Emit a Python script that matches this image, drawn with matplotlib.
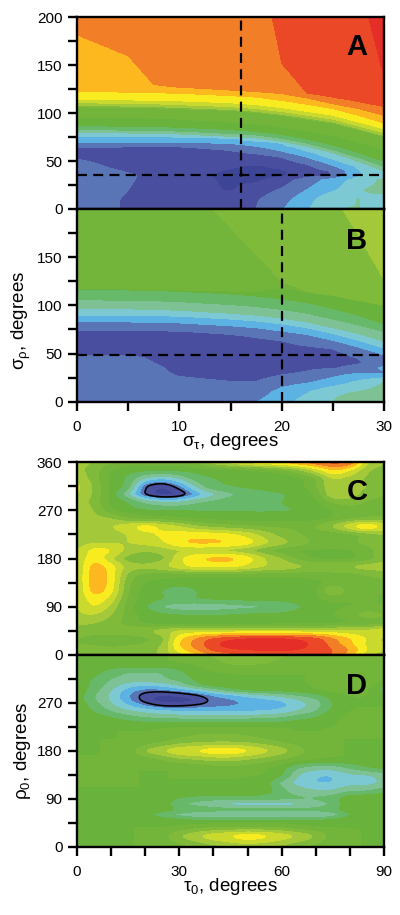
import numpy as np
import matplotlib
matplotlib.use("Agg")
import matplotlib.pyplot as plt
from matplotlib.ticker import MultipleLocator

plt.rcParams['font.family'] = ['Liberation Sans', 'DejaVu Sans']
plt.rcParams['mathtext.fontset'] = 'custom'
plt.rcParams['mathtext.rm'] = 'Liberation Sans'
plt.rcParams['mathtext.it'] = 'Liberation Sans'
plt.rcParams['mathtext.default'] = 'regular'

# colour for each score step, deep blue (low) to red (high)
colors = ['#3d4596', '#4a4e9e', '#5a75b6', '#5bb2e3', '#7cc9d3', '#7dc195', '#68b86a',
          '#69b23c', '#72b53a', '#7fba3a', '#a3c83a', '#c9d92e', '#f8ec20', '#fdb81f',
          '#f37e28', '#ea4826', '#e62e29']

# panels A and B: z on rows near the floor, then the y where each step starts
sig_cols = [0, 5, 7.5, 10, 15, 17.5, 20, 22.5, 25, 27.5, 30]
low_rows = [0, 10, 20, 30, 35, 40, 45, 50, 55, 60, 65, 70, 75]

a_low = [
    [2.5, 1.9, 1.7, 1.5, 1.5, 2.0, 2.9, 3.9, 5.0, 5.01, 4.5],
    [2.5, 1.9, 1.7, 1.5, 1.5, 1.9, 2.6, 3.6, 4.8, 5.01, 4.5],
    [2.5, 2.0, 1.6, 1.5, 0.9, 1.5, 2.1, 3.0, 3.8, 4.9, 5.3],
    [2.5, 2.1, 1.7, 1.5, 0.8, 0.8, 1.5, 2.5, 3.4, 4.4, 5.2],
    [2.5, 2.1, 1.8, 1.5, 0.7, 0.7, 0.8, 1.6, 2.0, 3.9, 4.5],
    [2.5, 1.9, 1.7, 1.5, 0.9, 0.8, 0.9, 1.5, 2.1, 3.9, 4.9],
    [2.4, 1.6, 1.5, 1.4, 1.1, 0.9, 1.2, 1.8, 2.9, 4.2, 5.6],
    [2.1, 1.5, 1.5, 1.4, 1.3, 1.3, 1.6, 2.4, 3.6, 5.2, 6.0],
    [1.8, 1.4, 1.4, 1.4, 1.4, 1.6, 2.1, 3.1, 4.5, 5.9, 6.0],
    [1.5, 1.4, 1.4, 1.5, 1.9, 2.3, 2.9, 3.9, 5.0, 6.0, 6.0],
    [2.1, 2.0, 2.0, 2.0, 2.3, 2.9, 3.5, 4.6, 5.0, 6.0, 6.0],
    [3.0, 3.0, 3.0, 3.0, 3.3, 3.7, 4.2, 5.0, 5.0, 6.0, 6.0],
    [3.9, 3.9, 3.9, 3.9, 4.2, 4.5, 5.0, 5.0, 5.0, 6.0, 6.0],
]
a_steps = [5, 6, 7, 8, 9, 10, 11, 12, 13, 14, 15, 16, 16.5]
a_step_y = [
    [80, 79.5, 79, 78.5, 76, 74.5, 71, 65.5, 59, 50, 40],
    [83, 82.5, 82, 81.5, 79, 77.5, 74, 69, 62, 54, 45],
    [87, 86.5, 86, 85.5, 83, 81, 78, 73, 67, 59, 50],
    [96, 95.5, 95, 94, 91, 89, 86, 82, 77, 70, 62],
    [107, 106.5, 106, 105, 103, 101, 98, 94, 90, 83, 76],
    [108, 107.5, 107, 106, 104, 102, 99, 95, 91, 84, 77],
    [111, 110.5, 110, 109, 107, 105, 102, 98, 94, 87, 80],
    [114.5, 114, 113.5, 113, 111, 109, 106, 102, 98, 91, 84],
    [122.5, 122, 121.5, 121, 118.5, 117, 113.5, 109.5, 105, 98, 90],
    [182, 160, 130, 127, 124, 122.5, 120.5, 116, 110, 105, 98],
    [400, 400, 400, 400, 400, 280, 152, 121, 117, 112, 107],
    [500, 500, 500, 500, 500, 500, 500, 500, 400, 240, 138],
    [1000, 1000, 1000, 1000, 1000, 1000, 1000, 1000, 1000, 1000, 1000],
]

b_low = [
    [2.5, 2.5, 2.5, 2.5, 2.5, 2.95, 3.6, 4.4, 5.0, 5.6, 5.8],
    [2.5, 2.5, 2.5, 2.5, 2.4, 2.5, 3.3, 3.9, 4.8, 5.01, 5.4],
    [2.5, 2.5, 2.5, 2.3, 2.05, 2.05, 2.6, 2.9, 3.4, 4.2, 5.0],
    [2.5, 2.5, 2.3, 1.8, 1.5, 1.5, 1.8, 2.1, 2.6, 2.9, 2.8],
    [2.5, 2.5, 2.2, 1.7, 1.4, 1.4, 1.5, 1.8, 1.9, 2.3, 3.2],
    [2.3, 2.3, 2.0, 1.6, 1.3, 1.3, 1.4, 1.5, 1.7, 1.9, 2.4],
    [2.2, 2.2, 1.9, 1.5, 1.3, 1.3, 1.3, 1.5, 1.6, 2.0, 2.6],
    [1.8, 1.8, 1.7, 1.5, 1.4, 1.4, 1.4, 1.5, 1.7, 2.3, 3.0],
    [1.5, 1.5, 1.5, 1.5, 1.4, 1.4, 1.5, 1.7, 2.0, 2.7, 3.0],
    [1.5, 1.5, 1.5, 1.5, 1.5, 1.6, 1.8, 2.2, 2.5, 3.0, 3.0],
    [1.5, 1.5, 1.5, 1.5, 1.6, 1.9, 2.1, 2.5, 3.0, 3.0, 3.0],
    [1.6, 1.6, 1.6, 1.6, 2.0, 2.2, 2.4, 2.7, 3.0, 3.0, 3.0],
    [2.1, 2.1, 2.1, 2.2, 2.5, 2.6, 2.8, 2.9, 3.0, 3.0, 3.0],
]
b_steps = [3, 4, 5, 6, 7, 8, 9, 10, 10.5]
b_step_y = [
    [83, 83, 82.5, 82, 79, 77, 73.5, 70, 64, 57, 49],
    [90, 90, 89.5, 89, 86, 84, 81, 77, 71, 64, 56],
    [97, 96.5, 96, 95, 92, 90, 87, 83, 77, 71, 63],
    [106, 105.5, 105, 104, 101, 99, 96, 92, 86, 80, 73],
    [117, 116.5, 116, 115, 112, 110, 107, 103, 97, 90, 81],
    [117.5, 117, 116.5, 116, 115, 114.5, 119, 114, 110, 105, 100],
    [348, 292, 265, 237, 181, 153, 125, 114.5, 110.5, 105.5, 100.5],
    [675, 584, 538, 492, 401, 355, 310, 264, 218, 172, 127],
    [1000, 1000, 1000, 1000, 1000, 1000, 1000, 1000, 1000, 1000, 1000],
]

# panels C and D: z on a tau0 / rho0 grid
tau_cols = [0, 5, 10, 15, 20, 25, 30, 35, 40, 45, 50, 55, 60, 65, 70, 75, 80, 85, 90]

c_rows = [0, 10, 20, 30, 45, 60, 75, 90, 105, 120, 135, 150, 165, 180, 195, 210, 225, 240,
          255, 270, 285, 300, 315, 330, 345, 360]
c_z = [
    [9.5, 9.5, 9.5, 9.5, 9.7, 10, 11.5, 12.5, 14, 14.5, 15, 15, 15.2, 15.2, 15.5, 15, 13.5, 11, 10.5],
    [9.5, 9.5, 9.5, 9.5, 9.5, 10.2, 12.5, 14, 15.3, 15.8, 16, 16.2, 16.2, 16, 15.7, 15, 14, 12, 10.8],
    [9, 8.8, 8.2, 8.8, 9, 9.7, 13.2, 14.4, 15.8, 16.6, 16.8, 16.8, 16.8, 16.3, 15.8, 14.5, 13.2, 11.7, 11],
    [9, 8.5, 8.5, 8.3, 8.6, 9.5, 12.7, 14.2, 15.3, 15.8, 16.3, 16.3, 16.3, 16, 15.5, 14.2, 13, 12, 10.5],
    [9.5, 9.3, 9.3, 9.5, 10, 10.5, 11.2, 11.2, 11.2, 11.2, 11.2, 11.2, 11.2, 11.2, 11.2, 11.2, 11.2, 11.2, 12],
    [10.2, 10, 9.5, 8.5, 7.7, 7.2, 7, 7, 7, 7, 7, 7.2, 7.3, 7.3, 7.3, 7.5, 7.8, 8, 8.3],
    [10.8, 11, 10, 8.5, 7.5, 7.2, 7.1, 7.1, 7.1, 7.1, 7.2, 7.2, 7.3, 7.5, 7.7, 8, 8.5, 9.7, 9],
    [10.8, 12.2, 10.7, 8.3, 7, 5.8, 5.1, 5, 5, 5.4, 5.6, 5.8, 5.8, 6.8, 7.5, 7.8, 8, 8, 8],
    [10.8, 12.8, 11.7, 8.5, 7.5, 7, 7, 7, 7.2, 7.2, 7.3, 7.3, 7.4, 7.5, 7.8, 8.2, 8, 8, 8],
    [10.8, 13.7, 12.5, 8.8, 7.5, 7, 6, 7, 7.4, 7.5, 7.5, 7.5, 7.5, 7.5, 7.6, 10.5, 8.3, 8, 8],
    [10.8, 14, 12.7, 9, 7.8, 7.6, 7.5, 7.5, 7.5, 7.5, 7.5, 7.5, 7.5, 7.5, 7.6, 8.3, 8, 8.3, 8.5],
    [10.8, 14, 12.7, 9.5, 8.5, 8.3, 8.3, 8.3, 8.3, 8.3, 8.3, 8.3, 8.3, 8.3, 8.3, 8.5, 8.5, 9, 9.5],
    [10.8, 13.7, 12.5, 10.5, 10.3, 10.8, 11.7, 12.3, 12.3, 12.3, 11.7, 11, 10.8, 10.3, 10, 10, 10.2, 10.5, 10.5],
    [10.8, 13, 11, 9.3, 9, 9.5, 11.8, 12.9, 13.4, 13.4, 12.6, 11, 10, 8.5, 7.7, 7.6, 7.7, 8.3, 9.8],
    [10.8, 12.5, 12.2, 10.5, 10, 10.3, 10.8, 11, 10.8, 10.5, 10, 9, 8.2, 7.8, 7.8, 7.8, 7.8, 8.5, 9.5],
    [10.5, 10.8, 10.8, 11, 11.3, 11.8, 13, 13.3, 13.3, 13.1, 12.6, 11.3, 10.5, 9.5, 8.8, 8.5, 8.8, 9.3, 10],
    [10.3, 10.5, 10.5, 11, 11.7, 12.2, 12.5, 12.6, 12.4, 12.2, 11.5, 10.5, 9.5, 9, 8.5, 8.1, 8.5, 9.2, 10],
    [10.3, 10.3, 11, 11.7, 12.7, 11.7, 11, 10, 9.5, 9.2, 9, 8.8, 8.8, 8.8, 9, 10.2, 12, 13.4, 11.7],
    [10.5, 10.3, 10, 8.8, 8.3, 8.2, 8, 7.8, 7.6, 7.4, 7.3, 7.3, 7.3, 7.3, 7.5, 8, 8.5, 9, 9],
    [10.8, 10, 8, 7.3, 7, 6.9, 6.9, 6.9, 6.9, 6.9, 6.9, 6.9, 6.9, 7, 7.3, 8, 8.3, 8.5, 8.5],
    [10.8, 9.5, 7.6, 7, 5.6, 5, 5, 5.8, 6.2, 6.6, 6.8, 6.8, 7, 7.2, 7.6, 9, 9.5, 8.8, 8.5],
    [11.2, 9.8, 7.6, 5, 1.6, 0.2, 0.8, 3.2, 4.7, 5.7, 6.4, 6.7, 6.9, 7.2, 8, 11.2, 10.5, 9.5, 9],
    [11.4, 9.8, 7.6, 6.8, 1.8, 0.8, 2.6, 5.2, 6.9, 7, 7.2, 7.3, 7.4, 7.5, 8.8, 11, 10.5, 10, 9.5],
    [10.7, 9.5, 7.6, 6.8, 4.8, 4, 5, 6.6, 7, 7.1, 7.1, 7.1, 7.2, 7.6, 8.8, 11.2, 10.5, 9.8, 9.5],
    [10.3, 9.5, 7.8, 7.3, 7.2, 7.2, 7.2, 7.3, 7.4, 7.5, 7.7, 8, 8.6, 9.6, 11.2, 13.2, 12, 10, 9.5],
    [10.3, 10, 9, 8.5, 8.5, 8.5, 8.5, 9, 10.7, 11.5, 12.5, 13, 13.3, 14, 14.8, 15.5, 15.2, 11, 10],
]

d_rows = [0, 20, 35, 50, 60, 70, 80, 90, 105, 120, 135, 150, 165, 180, 195, 210, 225, 240,
          255, 265, 275, 285, 295, 305, 315, 330, 345, 360]
d_z = [
    [8, 8, 8, 8, 8, 8, 8.5, 9, 9.5, 10, 10.2, 10, 9.6, 9, 8.5, 8, 8, 8, 8],
    [8, 8, 8, 8, 8, 8.5, 10, 10.9, 11.8, 12.2, 12.9, 12.4, 11.7, 11, 10, 8.5, 8, 8, 8],
    [8, 8, 8, 8, 8, 8, 8.2, 8.8, 9, 9.1, 9.1, 9.1, 9, 8.5, 8.1, 8, 8, 8, 8],
    [8, 8, 8, 8, 8, 7.7, 7.3, 7, 7, 7, 7, 7, 7, 7, 7, 7.3, 7.8, 8, 8],
    [8, 8, 8, 8, 7.5, 6, 5.4, 4.9, 4.7, 4.7, 4.7, 4.7, 4.6, 4.5, 4.6, 5.1, 6.8, 7.8, 8],
    [8, 8, 8, 8, 7.9, 7.6, 7, 6.7, 6.6, 6.5, 6.5, 6.5, 6.5, 6.5, 6.5, 6.7, 7.8, 8, 8],
    [8, 8, 8, 8, 8, 7.6, 6, 5.5, 5, 4.4, 4.4, 4.3, 4.3, 4.5, 4.9, 6.2, 7.8, 8, 8],
    [8, 8, 8, 8, 8, 7.7, 6.8, 6.4, 6.2, 6.2, 6.2, 6.2, 6.2, 6.2, 6.2, 6.6, 7.8, 8, 8],
    [8, 8, 8, 8, 8, 8, 8, 8, 8, 8, 8, 7.7, 6.2, 5.5, 5, 5, 5.8, 5.8, 6.5],
    [8, 8, 8, 8, 8, 8, 8, 8, 8, 8, 8, 7.5, 5.6, 4.4, 3.9, 3.9, 4.6, 4.4, 5.2],
    [8, 9.2, 8.4, 8, 8, 8, 8, 8, 8, 8, 8, 8, 7.2, 4.8, 4, 3.9, 4.8, 4.8, 5.4],
    [8, 8.3, 8, 8, 8, 8, 8, 8.2, 8.6, 8.7, 8.5, 8.1, 7.5, 6, 5.5, 5.5, 6.2, 7, 7.5],
    [8, 8, 8, 8, 8.3, 9, 9.8, 10, 10.4, 10.4, 10, 9.5, 9, 8.4, 8, 8, 8, 8, 8],
    [8, 8, 8, 8.2, 10.2, 11, 12, 12.2, 12.8, 12.9, 12.3, 11.4, 10.5, 9.5, 8.2, 8, 8, 8, 8],
    [8, 8, 8, 8, 8.4, 9, 9.6, 9.9, 10, 10, 9.9, 9.5, 9, 8.5, 8, 8, 8, 8, 8],
    [8, 8, 8, 8, 8, 8, 8.4, 9, 9.1, 9.1, 8.8, 8.4, 8, 8, 8, 8, 8, 8, 8],
    [8, 8, 8, 8, 8, 8, 8, 8, 8, 8, 8, 8, 8, 8, 8, 8, 8.2, 8.5, 8],
    [8, 7.8, 7.2, 6.6, 6.2, 6, 5.9, 5.9, 5.9, 5.9, 5.9, 6, 6.2, 6.8, 7.2, 7.8, 8.3, 9.3, 8.3],
    [7.9, 6.8, 5.8, 5, 4.5, 4.1, 3.9, 3.8, 3.8, 3.8, 3.8, 3.9, 4.2, 5, 5.8, 7.4, 8, 8, 8],
    [7.8, 6.5, 5.2, 4, 2.8, 1.8, 1.8, 2.2, 2.6, 2.8, 3.2, 3.3, 3.6, 4.5, 5.4, 7, 8, 8, 8],
    [7.6, 6, 4.8, 3.2, 1.4, 0.2, 0.2, 0.8, 2.4, 2.7, 3.3, 3.6, 3.9, 4.8, 5.6, 7.2, 8, 8, 8],
    [7.6, 6, 4.8, 3, 1.4, 0.8, 1.2, 1.9, 3, 3.6, 4.3, 4.8, 5.4, 6, 6.6, 7.5, 8, 8, 7.5],
    [7.8, 6.4, 5, 3.5, 2.6, 2.8, 3.4, 4.2, 5.4, 6.6, 7.2, 7.5, 7.5, 7.7, 8, 8.3, 8.5, 8.2, 6.2],
    [7.8, 6.6, 5.6, 4.5, 4.2, 4.5, 5.3, 6.8, 7.7, 7.9, 8, 8, 8, 8, 8, 8.4, 8.6, 8.4, 7.5],
    [7.9, 6.8, 5.9, 5.6, 5.6, 5.8, 6.3, 7.2, 7.9, 8, 8, 8, 8, 8, 8, 8.5, 8.7, 8.5, 8],
    [8, 7.5, 6.5, 6, 6, 6, 6.8, 7.6, 8, 8, 8, 8, 8, 8, 8, 8.5, 8.7, 8.5, 8],
    [8, 8, 8, 8, 8, 8, 8, 8.1, 8.6, 9.2, 9.2, 9.1, 8.6, 8.2, 8, 8.3, 8.6, 8.3, 8],
    [8, 8, 8, 8, 8, 8, 8, 8.3, 9.2, 9.5, 9.5, 9.5, 9.2, 8.5, 8, 8, 8, 8, 8],
]

W, H = 400.0, 915.0
levels = np.arange(0, 18)


def panel_axes(top, bottom):
    ax = fig.add_axes([77 / W, 1 - bottom / H, 307 / W, (bottom - top) / H])
    for s in ax.spines.values():
        s.set_linewidth(1.7)
    ax.tick_params(which='both', direction='out', width=1.7, labelsize=11, pad=4)
    ax.tick_params(which='both', axis='x', pad=6.5)
    ax.tick_params(which='major', length=6.5)
    ax.tick_params(which='minor', length=6.5)
    return ax


def step_grid(low, steps, step_y, xs, ys):
    # one z profile per x: floor rows first, then the step heights
    low = np.array(low, dtype=float)
    step_y = np.array(step_y, dtype=float)
    z = np.zeros((len(ys), len(xs)))
    for i, x in enumerate(xs):
        low_z = [np.interp(x, sig_cols, row) for row in low]
        sy = [np.interp(x, sig_cols, row) for row in step_y]
        keep = [k for k in range(len(low_rows)) if low_rows[k] < sy[0] - 0.5]
        py = [low_rows[k] for k in keep] + sy
        pz = [low_z[k] for k in keep] + list(steps)
        z[:, i] = np.interp(ys, py, pz)
    return z


def soften(values, window):
    pad = window // 2
    kernel = np.ones(window) / window
    return np.convolve(np.pad(values, pad, mode='edge'), kernel, mode='valid')


def smooth_grid(cols, rows, z, xs, ys):
    # round off the corners of a coarse grid
    z = np.array(z, dtype=float)
    by_x = np.array([np.interp(xs, cols, row) for row in z])
    out = np.array([np.interp(ys, rows, by_x[:, i]) for i in range(len(xs))]).T
    for _ in range(2):
        out = np.array([soften(row, 7) for row in out])
        out = np.array([soften(out[:, i], 7) for i in range(len(xs))]).T
    return out


def fill(ax, x, y, z):
    cs = ax.contourf(x, y, z, levels=levels, colors=colors)
    cs.set_edgecolor('face')
    cs.set_linewidth(0.3)


fig = plt.figure(figsize=(W / 100, H / 100), dpi=100, facecolor='white')

fine_x = np.arange(0, 30.01, 0.1)
fine_y = np.arange(0, 200.01, 0.5)
tau_x = np.arange(0, 90.01, 0.5)
rho_y = np.arange(0, 360.01, 1.0)

ax_a = panel_axes(17.3, 209)
fill(ax_a, fine_x, fine_y, step_grid(a_low, a_steps, a_step_y, fine_x, fine_y))
ax_a.axvline(16, color='black', lw=1.6, linestyle=(0, (4.5, 2.8)))
ax_a.axhline(35, color='black', lw=1.6, linestyle=(0, (4.5, 2.8)))
ax_a.set_xlim(0, 30)
ax_a.set_ylim(0, 200)
ax_a.set_yticks([0, 50, 100, 150, 200])
ax_a.yaxis.set_minor_locator(MultipleLocator(25))
ax_a.set_xticks([])
ax_a.text(0.912, 0.845, 'A', transform=ax_a.transAxes, ha='center', va='center',
          fontsize=21, fontweight='bold')

ax_b = panel_axes(209, 401.7)
fill(ax_b, fine_x, fine_y, step_grid(b_low, b_steps, b_step_y, fine_x, fine_y))
ax_b.axvline(20, color='black', lw=1.6, linestyle=(0, (4.5, 2.8)))
ax_b.axhline(48, color='black', lw=1.6, linestyle=(0, (4.5, 2.8)))
ax_b.set_xlim(0, 30)
ax_b.set_ylim(0, 200)
ax_b.set_yticks([0, 50, 100, 150])
ax_b.set_yticks([25, 75, 125, 175], minor=True)
ax_b.set_xticks([0, 10, 20, 30])
ax_b.xaxis.set_minor_locator(MultipleLocator(5))
ax_b.text(0.912, 0.835, 'B', transform=ax_b.transAxes, ha='center', va='center',
          fontsize=21, fontweight='bold')
ax_b.set_xlabel(r'$\sigma_{\tau}$, degrees', fontsize=13.5, labelpad=-2)
ax_b.set_ylabel(r'$\sigma_{\rho}$, degrees', fontsize=13.5, y=0.42, labelpad=3)

z_c = smooth_grid(tau_cols, c_rows, c_z, tau_x, rho_y)
ax_c = panel_axes(462, 655)
fill(ax_c, tau_x, rho_y, z_c)
ax_c.contour(tau_x, rho_y, z_c, levels=[2], colors='black', linewidths=1.2)
ax_c.set_xlim(0, 90)
ax_c.set_ylim(0, 360)
ax_c.set_yticks([0, 90, 180, 270, 360])
ax_c.yaxis.set_minor_locator(MultipleLocator(45))
ax_c.set_xticks([])
ax_c.text(0.912, 0.845, 'C', transform=ax_c.transAxes, ha='center', va='center',
          fontsize=21, fontweight='bold')

z_d = smooth_grid(tau_cols, d_rows, d_z, tau_x, rho_y)
ax_d = panel_axes(655, 846.7)
fill(ax_d, tau_x, rho_y, z_d)
ax_d.contour(tau_x, rho_y, z_d, levels=[2], colors='black', linewidths=1.2)
ax_d.set_xlim(0, 90)
ax_d.set_ylim(0, 360)
ax_d.set_yticks([0, 90, 180, 270])
ax_d.set_yticks([45, 135, 225, 315], minor=True)
ax_d.set_xticks([0, 30, 60, 90])
ax_d.xaxis.set_minor_locator(MultipleLocator(10))
ax_d.text(0.912, 0.84, 'D', transform=ax_d.transAxes, ha='center', va='center',
          fontsize=21, fontweight='bold')
ax_d.set_xlabel(r'$\tau_{0}$, degrees', fontsize=13.5, labelpad=-2)
ax_d.set_ylabel(r'$\rho_{0}$, degrees', fontsize=13.5, labelpad=3)

fig.savefig('out.png', dpi=100)
